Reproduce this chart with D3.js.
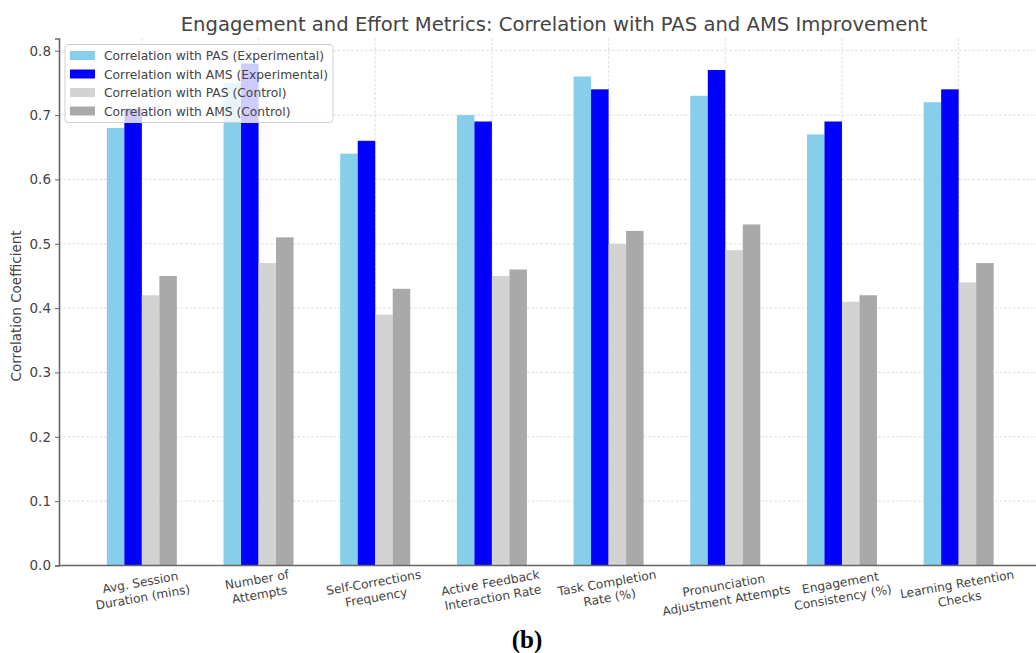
<!DOCTYPE html>
<html>
<head>
<meta charset="utf-8">
<script src="https://cdn.jsdelivr.net/npm/d3@7/dist/d3.min.js"></script>
<style>
  html, body { margin: 0; padding: 0; background: #fff; }
  svg { display: block; font-family: "DejaVu Sans", sans-serif; }
</style>
</head>
<body>
<svg id="chart" width="1036" height="653"></svg>
<script>
// Engagement / effort metrics and their correlation with PAS and AMS improvement
const categories = [
  "Avg. Session\nDuration (mins)",
  "Number of\nAttempts",
  "Self-Corrections\nFrequency",
  "Active Feedback\nInteraction Rate",
  "Task Completion\nRate (%)",
  "Pronunciation\nAdjustment Attempts",
  "Engagement\nConsistency (%)",
  "Learning Retention\nChecks"
];

const pasExperimental = [0.68, 0.75, 0.64, 0.70, 0.76, 0.73, 0.67, 0.72];
const amsExperimental = [0.71, 0.78, 0.66, 0.69, 0.74, 0.77, 0.69, 0.74];
const pasControl      = [0.42, 0.47, 0.39, 0.45, 0.50, 0.49, 0.41, 0.44];
const amsControl      = [0.45, 0.51, 0.43, 0.46, 0.52, 0.53, 0.42, 0.47];

const seriesNames = [
  "Correlation with PAS (Experimental)",
  "Correlation with AMS (Experimental)",
  "Correlation with PAS (Control)",
  "Correlation with AMS (Control)"
];
const seriesColors = ["#87CEEB", "#0000FF", "#D3D3D3", "#A9A9A9"];
const yTicks = [0.0, 0.1, 0.2, 0.3, 0.4, 0.5, 0.6, 0.7, 0.8];

const series = [pasExperimental, amsExperimental, pasControl, amsControl].map((values, k) => ({
  name: seriesNames[k], color: seriesColors[k], values
}));

const svg = d3.select("#chart");
const plot = { left: 59, right: 1038, top: 38.5, bottom: 565.5 };
const barWidth = 0.15;

const x = d3.scaleLinear().domain([-0.71, 7.68]).range([plot.left, plot.right]);
const y = d3.scaleLinear().domain([0, 0.819]).range([plot.bottom, plot.top]);

// grid
const grid = svg.append("g").attr("class", "grid");
grid.selectAll("line.gy").data(yTicks.filter(t => t > 0)).join("line")
  .attr("x1", plot.left).attr("x2", 1036)
  .attr("y1", d => y(d)).attr("y2", d => y(d))
  .attr("stroke", "#d4d4d4").attr("stroke-width", 0.8).attr("stroke-dasharray", "2.5,2");
grid.selectAll("line.gx").data(categories.map((c, i) => i)).join("line")
  .attr("x1", d => x(d)).attr("x2", d => x(d))
  .attr("y1", plot.top).attr("y2", plot.bottom)
  .attr("stroke", "#d4d4d4").attr("stroke-width", 0.8).attr("stroke-dasharray", "2.5,2");

// bars
series.forEach((s, k) => {
  svg.append("g").selectAll("rect").data(s.values).join("rect")
    .attr("x", (d, i) => x(i - 0.3 + k * barWidth))
    .attr("width", x(barWidth) - x(0))
    .attr("y", d => y(d))
    .attr("height", d => y(0) - y(d))
    .attr("fill", s.color);
});

// y axis
const yAxis = svg.append("g")
  .attr("transform", `translate(${plot.left},0)`)
  .call(d3.axisLeft(y).tickValues(yTicks).tickFormat(d3.format(".1f")).tickSize(4).tickPadding(4));
yAxis.select(".domain").attr("stroke", "#666").attr("stroke-width", 1.6);
yAxis.selectAll(".tick line").attr("stroke", "#666").attr("stroke-width", 1);
yAxis.selectAll(".tick text").attr("font-size", 13.5).attr("fill", "#444")
  .attr("font-family", "DejaVu Sans");

// x axis
const xAxis = svg.append("g")
  .attr("transform", `translate(0,${plot.bottom})`)
  .call(d3.axisBottom(x).tickValues(categories.map((c, i) => i)).tickSize(0).tickFormat(""));
xAxis.select(".domain").attr("stroke", "#666").attr("stroke-width", 1.6)
  .attr("d", `M${plot.left},0H1036`);

// rotated two-line category labels, top of rotated box under the axis
const angle = -10;
const rad = Math.abs(angle) * Math.PI / 180;
const lineH = 15;
categories.forEach((c, i) => {
  const lines = c.split("\n");
  const g = svg.append("g");
  const t = g.append("text")
    .attr("text-anchor", "middle")
    .attr("font-size", 12.2)
    .attr("fill", "#444");
  lines.forEach((ln, j) => {
    t.append("tspan").attr("x", 0).attr("dy", j === 0 ? 0 : lineH).text(ln);
  });
  let w = 0;
  t.selectAll("tspan").each(function () { w = Math.max(w, this.getComputedTextLength()); });
  const h = lines.length * lineH;
  const H = w * Math.sin(rad) + h * Math.cos(rad);
  const cy = plot.bottom + 3 + H / 2;
  t.attr("y", -h / 2 + 10);
  g.attr("transform", `translate(${x(i)},${cy}) rotate(${angle})`);
});

// axis title
svg.append("text")
  .attr("transform", `translate(21,${(plot.top + plot.bottom) / 2 + 4}) rotate(-90)`)
  .attr("text-anchor", "middle")
  .attr("font-size", 13.5).attr("fill", "#444")
  .text("Correlation Coefficient");

// chart title
svg.append("text")
  .attr("x", 554).attr("y", 31)
  .attr("text-anchor", "middle")
  .attr("font-size", 19.6).attr("fill", "#444")
  .text("Engagement and Effort Metrics: Correlation with PAS and AMS Improvement");

// legend
const legend = svg.append("g").attr("transform", "translate(65,44.5)");
legend.append("rect")
  .attr("width", 268).attr("height", 78).attr("rx", 3)
  .attr("fill", "#fff").attr("fill-opacity", 0.8)
  .attr("stroke", "#d0d0d0").attr("stroke-width", 1);
series.forEach((s, k) => {
  const row = legend.append("g").attr("transform", `translate(5,${11 + k * 18.5})`);
  row.append("rect").attr("x", 0).attr("y", -4.5).attr("width", 25).attr("height", 9).attr("fill", s.color);
  row.append("text").attr("x", 34).attr("y", 4.5)
    .attr("font-size", 12.3).attr("fill", "#444").text(s.name);
});

// panel tag
svg.append("text")
  .attr("x", 527).attr("y", 648)
  .attr("text-anchor", "middle")
  .attr("font-family", "'Liberation Serif', 'Times New Roman', serif")
  .attr("font-weight", "bold").attr("font-size", 25).attr("fill", "#000")
  .text("(b)");
</script>
</body>
</html>
